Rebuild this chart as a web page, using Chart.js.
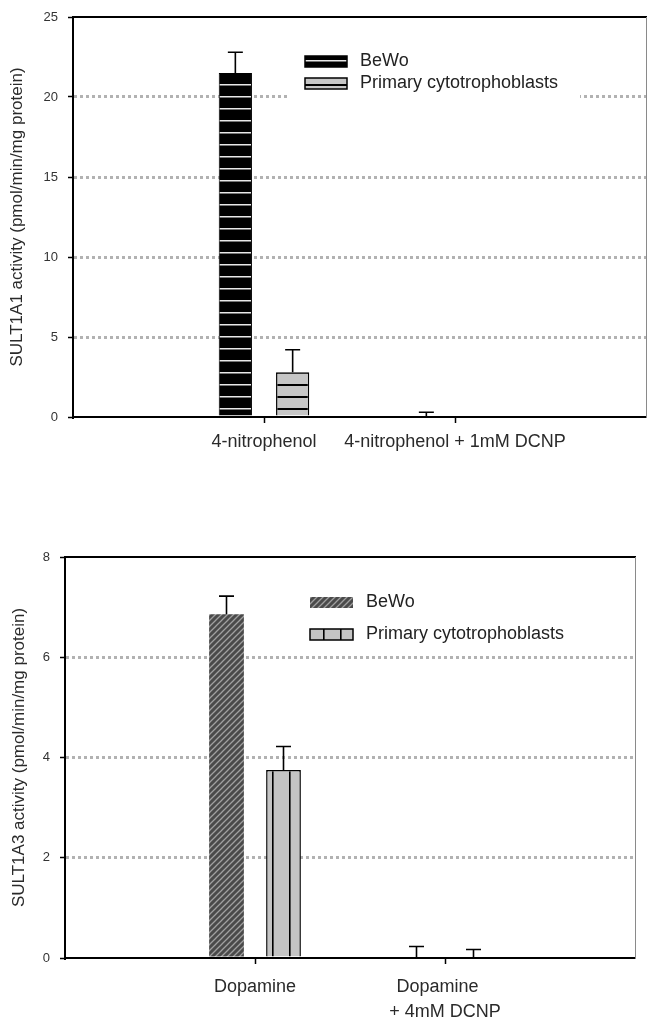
<!DOCTYPE html>
<html>
<head>
<meta charset="utf-8">
<script src="https://cdn.jsdelivr.net/npm/chart.js@4"></script>
<style>
  html, body { margin: 0; padding: 0; background: #fff; }
  #wrap { position: relative; width: 656px; height: 1028px; }
  canvas { position: absolute; left: 0; display: block; }
</style>
</head>
<body>
<div id="wrap">
  <canvas id="chart1" width="656" height="500" style="top:0"></canvas>
  <canvas id="chart2" width="656" height="528" style="top:500px"></canvas>
</div>
<script>
// datos del grafico superior (SULT1A1)
var topCategories = ['', '4-nitrophenol', '4-nitrophenol + 1mM DCNP', ''];
var topBewo = [null, 21.5, 0, null];
var topBewoErr = [0, 1.3, 0.3, 0];
var topPrimary = [null, 2.8, 0, null];
var topPrimaryErr = [0, 1.4, 0, 0];
var topMax = 25;
var topStep = 5;

// datos del grafico inferior (SULT1A3)
var bottomCategories = ['', 'Dopamine', ['Dopamine   ', '+ 4mM DCNP'], ''];
var bottomBewo = [null, 6.86, 0, null];
var bottomBewoErr = [0, 0.36, 0.23, 0];
var bottomPrimary = [null, 3.75, 0, null];
var bottomPrimaryErr = [0, 0.47, 0.17, 0];
var bottomMax = 8;
var bottomStep = 2;

var seriesNames = ['BeWo', 'Primary cytotrophoblasts'];
var FONT = "'Liberation Sans', Arial, sans-serif";

// tramas de relleno
function makePattern(canvasId, w, h, bg, draw) {
    var tile = document.createElement('canvas');
    tile.width = w;
    tile.height = h;
    var g = tile.getContext('2d');
    g.fillStyle = bg;
    g.fillRect(0, 0, w, h);
    draw(g, w, h);
    return document.getElementById(canvasId).getContext('2d').createPattern(tile, 'repeat');
}

var patBewoTop = makePattern('chart1', 4, 12, '#000', function(g, w) {
    g.fillStyle = '#e8e8e8';
    g.fillRect(0, 0, w, 1.5);
});
var patPrimaryTop = makePattern('chart1', 4, 12, '#c6c6c6', function(g, w) {
    g.fillStyle = '#000';
    g.fillRect(0, 0, w, 2);
});
var patBewoBottom = makePattern('chart2', 6, 6, '#4a4a4a', function(g) {
    g.strokeStyle = '#a0a0a0';
    g.lineWidth = 1.3;
    g.beginPath();
    g.moveTo(0, 6); g.lineTo(6, 0);
    g.moveTo(-1, 1); g.lineTo(1, -1);
    g.moveTo(5, 7); g.lineTo(7, 5);
    g.stroke();
});
var patPrimaryBottom = makePattern('chart2', 17, 4, '#c4c4c4', function(g, w, h) {
    g.fillStyle = '#000';
    g.fillRect(0, 0, 1.6, h);
});

// barras de error (solo hacia arriba)
var errorBars = {
    id: 'errorBars',
    afterDatasetsDraw: function(chart, args, opts) {
        var ctx = chart.ctx;
        var yScale = chart.scales.y;
        chart.data.datasets.forEach(function(ds, i) {
            var meta = chart.getDatasetMeta(i);
            meta.data.forEach(function(bar, j) {
                var err = ds.errors[j];
                if (ds.data[j] === null || !err) return;
                var yTop = yScale.getPixelForValue(ds.data[j] + err);
                ctx.save();
                ctx.strokeStyle = '#000';
                ctx.lineWidth = 1.6;
                ctx.beginPath();
                ctx.moveTo(bar.x, bar.y);
                ctx.lineTo(bar.x, yTop);
                ctx.moveTo(bar.x - opts.cap, yTop);
                ctx.lineTo(bar.x + opts.cap, yTop);
                ctx.stroke();
                ctx.restore();
            });
        });
    }
};

// leyenda dibujada dentro del area del grafico
var boxLegend = {
    id: 'boxLegend',
    afterDatasetsDraw: function(chart, args, o) {
        var ctx = chart.ctx;
        var a = chart.chartArea;
        ctx.save();
        if (o.clear) {
            ctx.fillStyle = '#fff';
            ctx.fillRect(a.left + o.clear[0], a.top + o.clear[1], o.clear[2], o.clear[3]);
        }
        chart.data.datasets.forEach(function(ds, i) {
            var x = a.left + o.x;
            var cy = a.top + o.y + i * o.gap;
            var y = Math.round(cy - o.h / 2);
            ctx.fillStyle = ds.backgroundColor;
            ctx.fillRect(x, y, o.w, o.h);
            if (ds.borderWidth) {
                ctx.strokeStyle = '#000';
                ctx.lineWidth = 1.5;
                ctx.strokeRect(x, y, o.w, o.h);
            }
            ctx.fillStyle = '#222';
            ctx.font = '18px ' + FONT;
            ctx.textBaseline = 'middle';
            ctx.textAlign = 'left';
            ctx.fillText(ds.label, x + o.w + 13, cy);
        });
        ctx.restore();
    }
};

function makeChart(id, cfg) {
    var ctx = document.getElementById(id).getContext('2d');
    return new Chart(ctx, {
        type: 'bar',
        data: {
            labels: cfg.categories,
            datasets: [{
                label: seriesNames[0],
                data: cfg.bewo,
                errors: cfg.bewoErr,
                backgroundColor: cfg.bewoFill,
                borderColor: '#000',
                borderWidth: cfg.bewoBorder
            }, {
                label: seriesNames[1],
                data: cfg.primary,
                errors: cfg.primaryErr,
                backgroundColor: cfg.primaryFill,
                borderColor: '#000',
                borderWidth: 1.5
            }]
        },
        options: {
            responsive: false,
            animation: false,
            categoryPercentage: 0.6,
            barPercentage: cfg.barPct,
            layout: { padding: { left: 0, right: cfg.padRight, top: cfg.padTop, bottom: 0 } },
            plugins: {
                legend: { display: false },
                tooltip: { enabled: false },
                errorBars: { cap: 7.5 },
                boxLegend: cfg.legend
            },
            scales: {
                x: {
                    offset: false,
                    grid: {
                        display: true,
                        drawOnChartArea: false,
                        offset: false,
                        tickLength: 6,
                        tickWidth: 1.5,
                        tickColor: function(c) {
                            return (c.index === 0 || c.index === cfg.categories.length - 1) ? 'rgba(0,0,0,0)' : '#000';
                        }
                    },
                    border: { display: true, color: '#000', width: 2 },
                    ticks: {
                        autoSkip: false,
                        maxRotation: 0,
                        minRotation: 0,
                        padding: cfg.xPad,
                        color: '#2a2a2a',
                        font: { size: 18, family: FONT, lineHeight: cfg.xLine }
                    },
                    afterFit: function(s) {
                        s.height = cfg.xHeight;
                        s.paddingLeft = 0; s.paddingRight = 0;
                    }
                },
                x2: {
                    type: 'linear', position: 'top', min: 0, max: 1,
                    ticks: { display: false },
                    grid: { display: false, drawTicks: false },
                    border: { display: true, color: '#000', width: 2 },
                    afterFit: function(s) { s.height = 0; }
                },
                y: {
                    min: 0,
                    max: cfg.max,
                    ticks: {
                        stepSize: cfg.step,
                        padding: 10,
                        color: '#333',
                        font: { size: 13, family: FONT }
                    },
                    grid: {
                        color: function(c) {
                            return (c.tick.value === 0 || c.tick.value === cfg.max) ? 'rgba(0,0,0,0)' : '#b2b2b2';
                        },
                        lineWidth: 3,
                        tickLength: 5,
                        tickColor: '#000',
                        tickWidth: 1.5
                    },
                    border: { display: true, color: '#000', width: 2, dash: [3, 3] },
                    title: {
                        display: true,
                        text: cfg.yTitle,
                        color: '#2a2a2a',
                        padding: { top: cfg.titlePad, bottom: 0 },
                        font: { size: 17, family: FONT }
                    },
                    afterFit: function(s) {
                        s.width = cfg.yWidth;
                        s.paddingTop = 0; s.paddingBottom = 0;
                    }
                },
                y2: {
                    type: 'linear', position: 'right', min: 0, max: 1,
                    ticks: { display: false },
                    grid: { display: false, drawTicks: false },
                    border: { display: true, color: '#8a8a8a', width: 1 },
                    afterFit: function(s) { s.width = 0; }
                }
            }
        },
        plugins: [boxLegend, errorBars]
    });
}

makeChart('chart1', {
    categories: topCategories,
    bewo: topBewo, bewoErr: topBewoErr,
    primary: topPrimary, primaryErr: topPrimaryErr,
    bewoFill: patBewoTop, primaryFill: patPrimaryTop, bewoBorder: 1,
    max: topMax, step: topStep,
    yTitle: 'SULT1A1 activity (pmol/min/mg protein)',
    barPct: 0.58,
    padTop: 17, padRight: 10, yWidth: 73, xHeight: 83,
    xPad: 8, xLine: 1.2, titlePad: 7,
    legend: { x: 232, y: 44, gap: 22, w: 42, h: 11, clear: [217, 28, 290, 56] }
});

makeChart('chart2', {
    categories: bottomCategories,
    bewo: bottomBewo, bewoErr: bottomBewoErr,
    primary: bottomPrimary, primaryErr: bottomPrimaryErr,
    bewoFill: patBewoBottom, primaryFill: patPrimaryBottom, bewoBorder: 0,
    max: bottomMax, step: bottomStep,
    yTitle: 'SULT1A3 activity (pmol/min/mg protein)',
    barPct: 0.61,
    padTop: 57, padRight: 21, yWidth: 65, xHeight: 70,
    xPad: 10.5, xLine: 1.39, titlePad: 9,
    legend: { x: 245, y: 45, gap: 32, w: 43, h: 11, clear: null }
});
</script>
</body>
</html>
